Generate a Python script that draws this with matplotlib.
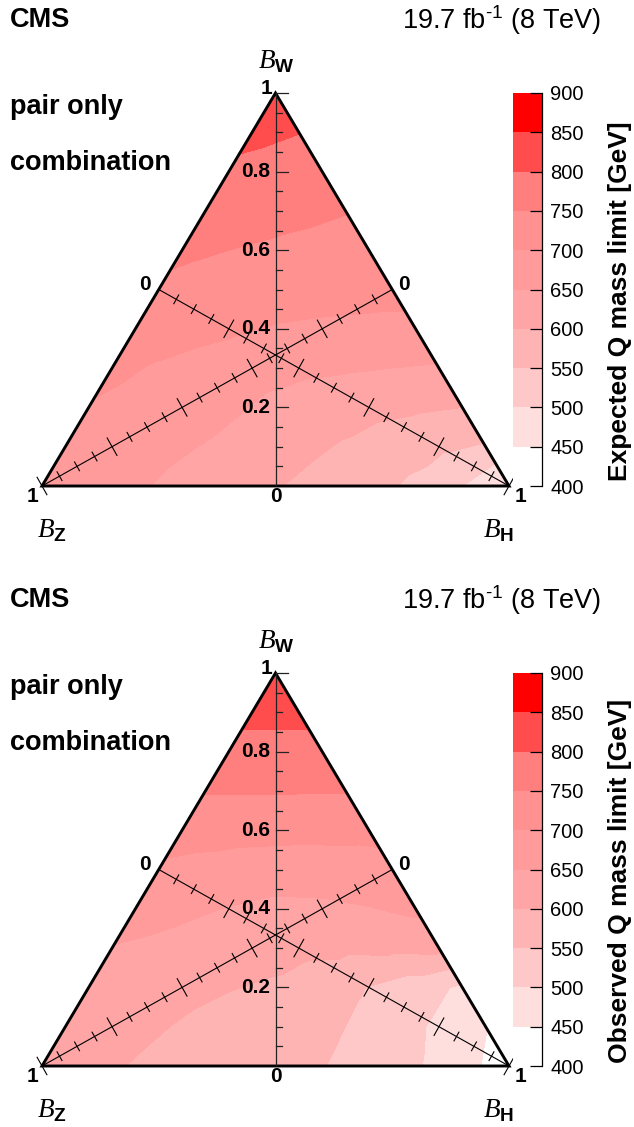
import numpy as np
import matplotlib.pyplot as plt
import matplotlib.tri as mtri
from matplotlib.patches import Polygon
from matplotlib.colors import ListedColormap, BoundaryNorm
from matplotlib.cm import ScalarMappable

plt.rcParams['font.family'] = ['Liberation Sans', 'DejaVu Sans']
plt.rcParams['mathtext.fontset'] = 'custom'
plt.rcParams['mathtext.it'] = 'Liberation Serif:italic'
plt.rcParams['mathtext.bf'] = 'Liberation Sans:bold'
plt.rcParams['mathtext.rm'] = 'Liberation Sans'
plt.rcParams['mathtext.default'] = 'regular'

# grid of branching fractions, rows are B_W, entries are B_H = 0, 0.1, ... 1-B_W
b_w = [0.0, 0.1, 0.2, 0.3, 0.4, 0.5, 0.6, 0.7, 0.8, 0.9, 1.0]

expected_limit = [
    [683, 670, 655, 640, 620, 603, 585, 565, 540, 500, 440],
    [690, 675, 660, 648, 630, 612, 595, 575, 560, 545],
    [697, 685, 672, 658, 638, 625, 615, 607, 600],
    [710, 695, 682, 670, 660, 655, 650, 645],
    [726, 718, 708, 697, 693, 691, 690],
    [742, 733, 724, 718, 715, 712],
    [758, 750, 743, 737, 732],
    [775, 768, 760, 752],
    [792, 785, 778],
    [810, 801],
    [830],
]

observed_limit = [
    [618, 610, 597, 585, 573, 562, 552, 530, 505, 470, 420],
    [628, 618, 603, 590, 582, 572, 550, 520, 492, 452],
    [638, 625, 612, 602, 594, 575, 548, 522, 492],
    [648, 640, 628, 618, 612, 610, 612, 615],
    [670, 660, 648, 638, 640, 648, 660],
    [692, 685, 678, 676, 680, 685],
    [720, 717, 715, 713, 712],
    [753, 753, 753, 753],
    [785, 785, 785],
    [812, 812],
    [830],
]

levels = [400, 450, 500, 550, 600, 650, 700, 750, 800, 850, 900]
band_colors = ['#ffffff', '#ffdede', '#ffc8c8', '#ffb4b4', '#ffa5a5',
               '#ff9b9b', '#ff9191', '#ff7f7f', '#ff4d4d', '#ff0000']

FW, FH = 634, 1127
W, H = 467, 393

fig = plt.figure(figsize=(FW / 100, FH / 100), dpi=100)


def ftext(x, y, s, **kw):
    fig.text(x / FW, 1 - y / FH, s, **kw)


def panel(y0, limits, title):
    ax = fig.add_axes([42 / FW, 1 - (y0 + 486) / FH, W / FW, H / FH])
    ax.set_xlim(0, W)
    ax.set_ylim(0, H)
    ax.axis('off')

    xs, ys, zs = [], [], []
    for i, row in enumerate(limits):
        for j, z in enumerate(row):
            xs.append((b_w[j] + b_w[i] / 2) * W)
            ys.append(b_w[i] * H)
            zs.append(z)
    tri = mtri.Triangulation(xs, ys)
    ax.tricontourf(tri, zs, levels=levels, colors=band_colors)

    # B_W axis
    ax.plot([W / 2, W / 2], [0, H], color='#222222', lw=0.9)
    for k in range(1, 21):
        L = 12 if k % 4 == 0 else 6
        ax.plot([W / 2, W / 2 + L], [k * 0.05 * H] * 2, color='#222222', lw=0.9,
                clip_on=False)
    for v in [0.2, 0.4, 0.6, 0.8]:
        ax.text(W / 2 - 5, v * H, f'{v:.1f}', ha='right', va='center',
                fontsize=15, fontweight='bold')

    # B_Z and B_H axes
    for vert, mid in [((0, 0), (3 * W / 4, H / 2)), ((W, 0), (W / 4, H / 2))]:
        vert = np.array(vert, float)
        mid = np.array(mid, float)
        ax.plot([vert[0], mid[0]], [vert[1], mid[1]], color='k', lw=0.8)
        d = vert - mid
        n = np.array([-d[1], d[0]]) / np.hypot(*d)
        for k in range(1, 21):
            p = mid + k * 0.05 * d
            L = 10 if k % 4 == 0 else 5
            ax.plot([p[0] - L * n[0], p[0] + L * n[0]],
                    [p[1] - L * n[1], p[1] + L * n[1]], color='k', lw=0.8,
                    clip_on=False)

    ax.add_patch(Polygon([[0, 0], [W / 2, H], [W, 0]], closed=True, fill=False,
                         ec='k', lw=2.1, joinstyle='miter', clip_on=False))

    lab = dict(fontsize=15, fontweight='bold', ha='center', va='center')
    ax.text(W / 2 - 9, H + 4, '1', **lab)
    ax.text(W / 4 - 14, H / 2 + 5, '0', **lab)
    ax.text(3 * W / 4 + 12, H / 2 + 5, '0', **lab)
    ax.text(W / 2, -10, '0', **lab)
    ax.text(-10, -10, '1', **lab)
    ax.text(W + 11, -10, '1', **lab)

    ftext(276, y0 + 62, r'$\mathit{B}_{\mathbf{W}}$', fontsize=19.5, ha='center', va='center')
    ftext(52, y0 + 531, r'$\mathit{B}_{\mathbf{Z}}$', fontsize=19.5, ha='center', va='center')
    ftext(498, y0 + 531, r'$\mathit{B}_{\mathbf{H}}$', fontsize=19.5, ha='center', va='center')

    ftext(10, y0 + 20, 'CMS', fontsize=19.5, fontweight='bold', ha='left', va='center')
    ftext(601, y0 + 20, r'19.7 fb$^{\text{-1}}$ (8 TeV)', fontsize=19.5, ha='right', va='center')
    ftext(10, y0 + 107, 'pair only', fontsize=19.5, fontweight='bold', ha='left', va='center')
    ftext(10, y0 + 163, 'combination', fontsize=19.5, fontweight='bold', ha='left', va='center')

    # colour scale
    cax = fig.add_axes([513 / FW, 1 - (y0 + 486) / FH, 29 / FW, H / FH])
    cmap = ListedColormap(band_colors)
    norm = BoundaryNorm(levels, cmap.N)
    cb = fig.colorbar(ScalarMappable(norm=norm, cmap=cmap), cax=cax)
    cb.outline.set_visible(False)
    cb.set_ticks(levels)
    cax.tick_params(axis='y', direction='in', length=8.5, width=0.9, pad=6,
                    labelsize=14.5, colors='k')
    cax.plot([1, 1], [0, 1], color='k', lw=0.9, transform=cax.transAxes,
             clip_on=False)
    ftext(620, y0 + 301, title, fontsize=19, fontweight='bold', rotation=90,
          ha='center', va='center')


panel(0, expected_limit, 'Expected Q mass limit [GeV]')
panel(580, observed_limit, 'Observed Q mass limit [GeV]')

fig.savefig('out.png', dpi=100)
